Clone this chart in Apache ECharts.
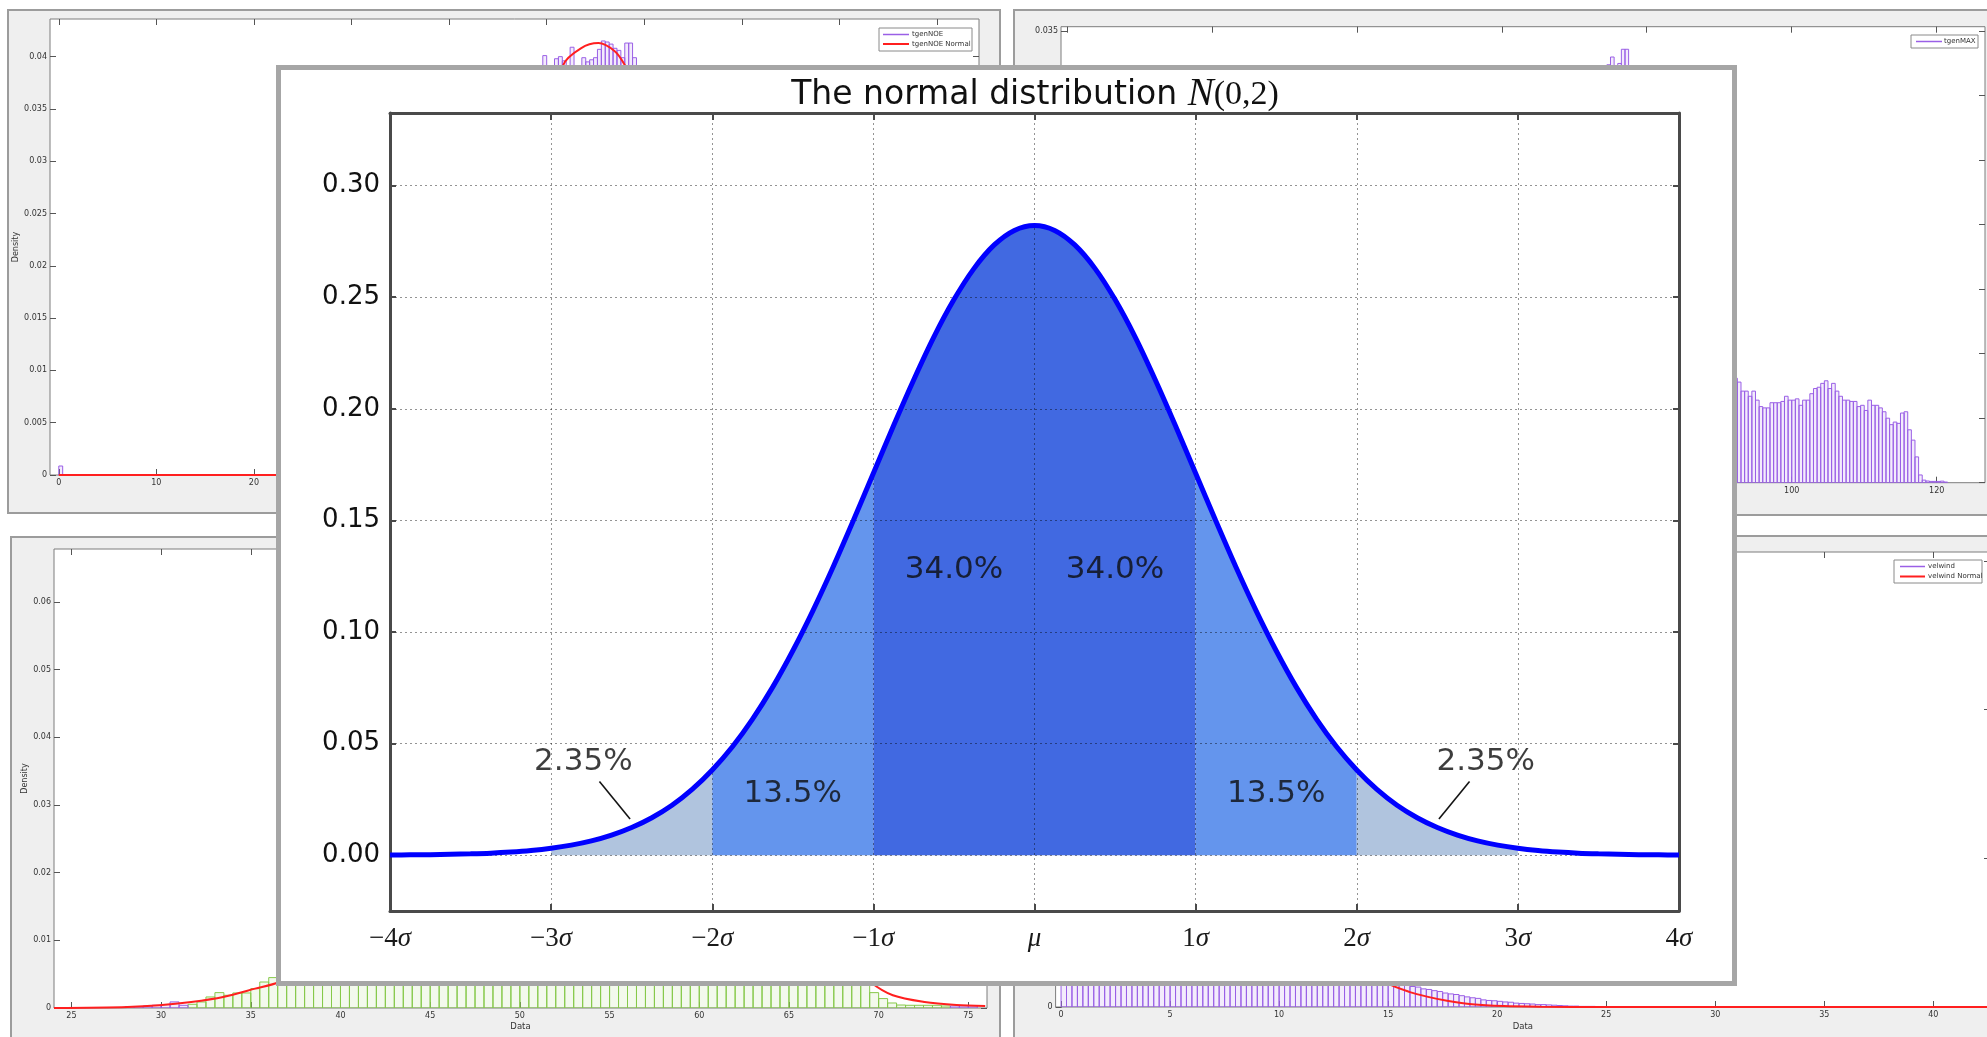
<!DOCTYPE html>
<html><head><meta charset="utf-8">
<script src="https://cdn.jsdelivr.net/npm/echarts@6/dist/echarts.min.js"></script>
<style>html,body{margin:0;padding:0;background:#fff;}#c{width:1987px;height:1037px;}</style>
</head><body><div id="c"></div>
<script>
// ================= main chart: N(0,2) =================
const sigmaX = [-4,-3.875,-3.75,-3.625,-3.5,-3.375,-3.25,-3.125,-3,-2.875,-2.75,-2.625,-2.5,-2.375,-2.25,-2.125,-2,-1.875,-1.75,-1.625,-1.5,-1.375,-1.25,-1.125,-1,-0.875,-0.75,-0.625,-0.5,-0.375,-0.25,-0.125,0,0.125,0.25,0.375,0.5,0.625,0.75,0.875,1,1.125,1.25,1.375,1.5,1.625,1.75,1.875,2,2.125,2.25,2.375,2.5,2.625,2.75,2.875,3,3.125,3.25,3.375,3.5,3.625,3.75,3.875,4];
const density = [0.0001,0.00015,0.0002,0.0004,0.0006,0.0009,0.0014,0.0021,0.0031,0.0045,0.0064,0.0090,0.0124,0.0168,0.0224,0.0295,0.0382,0.0486,0.0610,0.0753,0.0916,0.1096,0.1291,0.1498,0.1711,0.1924,0.2129,0.2321,0.2489,0.2629,0.2734,0.2799,0.2821,0.2799,0.2734,0.2629,0.2489,0.2321,0.2129,0.1924,0.1711,0.1498,0.1291,0.1096,0.0916,0.0753,0.0610,0.0486,0.0382,0.0295,0.0224,0.0168,0.0124,0.0090,0.0064,0.0045,0.0031,0.0021,0.0014,0.0009,0.0006,0.0004,0.0002,0.00015,0.0001];
const sigmaTickLabels = ['−4σ','−3σ','−2σ','−1σ','μ','1σ','2σ','3σ','4σ'];
const densityTicks = [0, 0.05, 0.10, 0.15, 0.20, 0.25, 0.30];
const bandFrom = [-3, -2, -1, 1, 2];
const bandTo = [-2, -1, 1, 2, 3];
const shareLabels = ['2.35%','13.5%','34.0%','34.0%','13.5%','2.35%'];
const shareLabelX = [-2.8, -1.5, -0.5, 0.5, 1.5, 2.8];
const shareLabelY = [0.0417, 0.0275, 0.128, 0.128, 0.0275, 0.0417];
const pointerFrom = [[-2.70, 0.033], [2.70, 0.033]];
const pointerTo = [[-2.51, 0.0162], [2.51, 0.0162]];

// ================= background figure 1: tgenNOE =================
const noeTicksX = [0,10,20,30,40,50,60,70,80,90];
const noeTicksY = [0,0.005,0.01,0.015,0.02,0.025,0.03,0.035,0.04];
const noeBinWidth = 0.4;
const noeBinCenters = [0.2, 46.2,46.6,47.0,47.4,47.8,48.2,48.6,49.0,49.4, 49.8,50.2,50.6,51.0,51.4,51.8,52.2,52.6,53.0,53.4,53.8,54.2,54.6,55.0,55.4,55.8,56.2,56.6,57.0,57.4,57.8,58.2,58.6,59.0, 59.4,59.8,60.2,60.6,61.0];
const noeDensity = [0.00086, 0.030,0.032,0.034,0.035,0.036,0.037,0.036,0.038,0.037, 0.0401,0.0385,0.0390,0.0398,0.0400,0.0396,0.0380,0.0409,0.0385,0.0380,0.0399,0.0395,0.0397,0.0399,0.0407,0.0415,0.0414,0.0412,0.0408,0.0406,0.0399,0.0413,0.0413,0.0399, 0.0375,0.0360,0.0350,0.0330,0.0310];
const noeNormalX = [0,10,20,25,30,35,40,45,48,50,51.7,53.5,55.3,57,58,60,62,65,70,75,80,85,90,94];
const noeNormalY = [0,0,0,0.00005,0.0002,0.0012,0.0045,0.0115,0.0225,0.0305,0.0392,0.0408,0.0413,0.0405,0.0392,0.0355,0.031,0.0235,0.012,0.0048,0.0015,0.0004,0.0001,0];

// ================= background figure 2: tgenMAX =================
const maxTicksX = [0,20,40,60,80,100,120];
const maxTicksY = [0,0.005,0.01,0.015,0.02,0.025,0.03,0.035];
const maxBinStart = 66.0;
const maxBinWidth = 0.5;
const maxDensity = [
 0.006,0.007,0.009,0.010,0.012,0.013,0.015,0.016,0.018,0.019,
 0.021,0.022,0.024,0.025,0.027,0.028,0.030,0.0324,0.0330,0.0315,
 0.0325,0.0336,0.0336,0.0318,0.0305,0.029,0.027,0.025,0.023,0.021,
 0.019,0.018,0.016,0.015,0.014,0.013,0.012,0.011,0.011,0.010,
 0.010,0.0095,0.0092,0.009,0.0088,0.0087,0.0086,0.0085,0.0084,0.0083,
 0.0082,0.0082,
 0.0081,0.0078,0.0071,0.0071,0.0067,0.0071,0.0064,0.0059,0.0058,0.0058,
 0.0062,0.0062,0.0062,0.0063,0.0067,0.0064,0.0064,0.0065,0.0060,0.0064,
 0.0064,0.0069,0.0073,0.0074,0.0077,0.0079,0.0073,0.0077,0.0071,0.0067,
 0.0064,0.0064,0.0063,0.0063,0.0059,0.0060,0.0056,0.0064,0.0060,0.0060,
 0.0058,0.0055,0.0050,0.0045,0.0047,0.0046,0.0054,0.0055,0.0041,0.0033,
 0.0020,0.0006,0.0002,0.00013,0.0001,0.0001,0.0001,0.00012,0.00005];

// ================= background figure 3: green histogram =================
const grnTicksX = [25,30,35,40,45,50,55,60,65,70,75];
const grnTicksY = [0,0.01,0.02,0.03,0.04,0.05,0.06];
const grnBinStart = 31.5;
const grnBinWidth = 0.5;
const grnDensity = [
 0.00055,0.00089,0.00163,0.00227,0.00188,0.00222,0.00222,0.00286,0.00384,0.00449,
 0.012,0.022,0.028,
 0.031,0.030,0.032,0.029,0.031,0.033,0.030,0.031,0.029,0.032,
 0.030,0.031,0.033,0.030,0.029,0.031,0.032,0.030,0.031,0.029,
 0.030,0.032,0.031,0.030,0.033,0.029,0.031,0.030,0.032,0.031,
 0.030,0.029,0.031,0.032,0.030,0.031,0.033,0.030,0.029,0.031,
 0.030,0.032,0.031,0.029,0.030,0.031,0.032,0.030,0.031,0.029,
 0.030,0.032,0.031,0.030,0.029,0.031,0.030,0.032,0.030,0.029,
 0.027,0.022,0.012,
 0.00227,0.00139,0.00074,0.00044,0.0004,0.0004,0.0004,0.0004,0.0003];
const grnPurpleCenters = [28.25,28.75,29.25,29.75,30.25,30.75,31.25,74.25,74.75,75.25];
const grnPurpleDensity = [0.0002,0.0002,0.0003,0.0004,0.0005,0.0009,0.0004,0.0003,0.0003,0.0003];
const grnNormalX = [24.03,28.13,29.9,31.68,33.46,35.24,36.56,40,45,50,53,56,60,65,69.54,70.79,72.56,74.34,75.94];
const grnNormalY = [0,0.00015,0.0004,0.00089,0.00163,0.00286,0.00384,0.009,0.022,0.034,0.037,0.034,0.026,0.014,0.00384,0.00188,0.00089,0.00044,0.0003];

// ================= background figure 4: velwind =================
const velTicksX = [0,5,10,15,20,25,30,35,40];
const velTicksY = [0,0.05,0.1,0.15];
const velBinStart = 0;
const velBinWidth = 0.25;
const velDensity = [
 0.010,0.018,0.024,0.030,0.036,0.041,0.047,0.052,0.058,0.063,
 0.068,0.073,0.078,0.082,0.086,0.090,0.094,0.097,0.100,0.103,
 0.105,0.107,0.108,0.109,0.110,0.110,0.109,0.108,0.106,0.104,
 0.101,0.098,0.094,0.090,0.086,0.081,0.076,0.071,0.066,0.061,
 0.056,0.051,0.047,0.042,0.038,0.034,0.030,0.027,0.024,0.021,
 0.019,0.017,0.015,0.014,0.013,0.012,0.0118,0.0114,0.0110,0.0108,
 0.0105,0.0098,0.0090,0.0084,0.0069,0.0067,0.0061,0.0059,0.0055,0.0052,
 0.0047,0.0044,0.0042,0.0038,0.0034,0.0031,0.0029,0.0024,0.0022,0.0021,
 0.0019,0.0017,0.0016,0.0013,0.0012,0.0011,0.0010,0.0008,0.0008,0.0007,
 0.0006,0.0005,0.0004,0.0003,0.0003,0.0002,0.0002,0.0002,0.0001,0.0001];
const velNormalX = [0,1,2,3,4,5,6,7,8,9,10,11,12,13,14,14.95,15.96,16.83,17.7,18.85,20.3,22,25,30,35,42.6];
const velNormalY = [0.012,0.024,0.040,0.058,0.075,0.088,0.095,0.096,0.090,0.079,0.064,0.048,0.033,0.021,0.013,0.0080,0.0051,0.0034,0.0021,0.0009,0.0003,0.0001,0,0,0,0];

// ================= helpers =================
const PURPLE = '#9a5fe6', PURPLE_FILL = 'rgba(154,95,230,0.12)';
const GREEN = '#86c94a', GREEN_FILL = 'rgba(134,201,74,0.10)';
const RED = '#ff1f1f';
const SMALL_FONT = 'DejaVu Sans';

function histItem(width, fill, stroke) {
  return function (params, api) {
    const x = api.value(0), h = api.value(1);
    const a = api.coord([x - width / 2, h]);
    const b = api.coord([x + width / 2, 0]);
    return { type: 'rect',
      shape: { x: a[0], y: a[1], width: b[0] - a[0], height: b[1] - a[1] },
      style: { fill: fill, stroke: stroke, lineWidth: 1 } };
  };
}
function binned(start, width, vals) { return vals.map((v, i) => [start + (i + 0.5) * width, v]); }
function paired(xs, ys) { return xs.map((x, i) => [x, ys[i]]); }

const bgTick = { inside: true, length: 6, lineStyle: { color: '#555', width: 1 } };
const xAxes = [], yAxes = [];
function bgAxes(g, xr, yr, xt, yt, xName, xGap, yName, yGap) {
  const lab = { fontSize: 8, color: '#333', fontFamily: SMALL_FONT };
  xAxes.push({ type: 'value', gridIndex: g, min: xr[0], max: xr[1], position: 'bottom', zlevel: 0, z: 2,
    axisLine: { show: false, onZero: false }, splitLine: { show: false },
    axisTick: Object.assign({}, bgTick, { customValues: xt }),
    axisLabel: Object.assign({}, lab, { customValues: xt, margin: 4, formatter: v => String(v) }),
    name: xName, nameLocation: 'middle', nameGap: xGap, nameTextStyle: { fontSize: 8.5, color: '#333', fontFamily: SMALL_FONT } });
  xAxes.push({ type: 'value', gridIndex: g, min: xr[0], max: xr[1], position: 'top', zlevel: 0, z: 2,
    axisLine: { show: false, onZero: false }, splitLine: { show: false }, axisLabel: { show: false },
    axisTick: Object.assign({}, bgTick, { customValues: xt }) });
  yAxes.push({ type: 'value', gridIndex: g, min: yr[0], max: yr[1], position: 'left', zlevel: 0, z: 2,
    axisLine: { show: false, onZero: false }, splitLine: { show: false },
    axisTick: Object.assign({}, bgTick, { customValues: yt }),
    axisLabel: Object.assign({}, lab, { customValues: yt, margin: 3, formatter: v => String(v) }),
    name: yName, nameLocation: 'middle', nameGap: yGap, nameTextStyle: { fontSize: 8, color: '#333', fontFamily: SMALL_FONT } });
  yAxes.push({ type: 'value', gridIndex: g, min: yr[0], max: yr[1], position: 'right', zlevel: 0, z: 2,
    axisLine: { show: false, onZero: false }, splitLine: { show: false }, axisLabel: { show: false },
    axisTick: Object.assign({}, bgTick, { customValues: yt }) });
}
bgAxes(0, [-0.9, 94.3], [0, 0.0436], noeTicksX, noeTicksY, '', 14, 'Density', 29);
bgAxes(1, [-0.8, 126.66], [0, 0.03535], maxTicksX, maxTicksY, 'Data', 14, '', 20);
bgAxes(2, [24.03, 76.04], [0, 0.0678], grnTicksX, grnTicksY, 'Data', 14, 'Density', 24);
bgAxes(3, [-0.25, 42.6], [0, 0.153], velTicksX, velTicksY, 'Data', 15, '', 20);

// main axes (index 8,9)
const frame = { show: true, onZero: false, lineStyle: { color: '#4a4a4a', width: 3 } };
const mainTick = { inside: true, length: 7, lineStyle: { color: '#4a4a4a', width: 2 } };
const serif = 'Liberation Serif';
xAxes.push({ type: 'value', gridIndex: 4, min: -4, max: 4, interval: 1, position: 'bottom', zlevel: 1, z: 3,
  axisLine: frame, axisTick: mainTick,
  splitLine: { show: true, lineStyle: { color: 'rgba(0,0,0,0.42)', type: [2, 3], width: 1 } },
  axisLabel: { margin: 14, formatter: function (v) {
      const s = sigmaTickLabels[Math.round(v) + 4];
      if (s.endsWith('σ')) return '{n|' + s.slice(0, -1) + '}{i|σ}';
      return '{i|' + s + '}';
    },
    rich: { n: { fontFamily: serif, fontSize: 27, color: '#1a1a1a' },
            i: { fontFamily: serif, fontStyle: 'italic', fontSize: 27, color: '#1a1a1a' } } } });
xAxes.push({ type: 'value', gridIndex: 4, min: -4, max: 4, interval: 1, position: 'top', zlevel: 1, z: 3,
  axisLine: frame, axisTick: mainTick, splitLine: { show: false }, axisLabel: { show: false } });
yAxes.push({ type: 'value', gridIndex: 4, min: -0.025, max: 0.3325, position: 'left', zlevel: 1, z: 3,
  axisLine: frame, axisTick: Object.assign({}, mainTick, { customValues: densityTicks, length: 6 }),
  splitLine: { show: false },
  axisLabel: { customValues: densityTicks, formatter: v => v.toFixed(2), margin: 10,
    fontFamily: 'DejaVu Sans', fontSize: 26, color: '#111' } });
yAxes.push({ type: 'value', gridIndex: 4, min: -0.025, max: 0.3325, position: 'right', zlevel: 1, z: 3,
  axisLine: frame, axisTick: Object.assign({}, mainTick, { customValues: densityTicks, length: 6 }),
  splitLine: { show: false }, axisLabel: { show: false } });

const bgGrid = { show: true, backgroundColor: '#fff', borderColor: '#7d7d7d', borderWidth: 1, zlevel: 0, z: 1,
  containLabel: false, outerBoundsMode: 'none' };
const grids = [
  Object.assign({}, bgGrid, { left: 50, top: 19, width: 929, height: 456 }),
  Object.assign({}, bgGrid, { left: 1061, top: 26.7, width: 924, height: 456 }),
  Object.assign({}, bgGrid, { left: 54, top: 549, width: 933, height: 459 }),
  Object.assign({}, bgGrid, { left: 1055.6, top: 552, width: 934.4, height: 455 }),
  { left: 390, top: 113, width: 1289, height: 798, show: false, zlevel: 1, z: 1, containLabel: false, outerBoundsMode: 'none' }
];

// ================= series =================
const series = [];
series.push({ type: 'custom', xAxisIndex: 0, yAxisIndex: 0, zlevel: 0, z: 3, clip: true,
  renderItem: histItem(noeBinWidth, PURPLE_FILL, PURPLE), data: paired(noeBinCenters, noeDensity) });
series.push({ type: 'line', xAxisIndex: 0, yAxisIndex: 0, zlevel: 0, z: 4, smooth: 0.3,
  symbol: 'none', lineStyle: { color: RED, width: 2 }, data: paired(noeNormalX, noeNormalY) });
series.push({ type: 'custom', xAxisIndex: 2, yAxisIndex: 2, zlevel: 0, z: 3, clip: true,
  renderItem: histItem(maxBinWidth, PURPLE_FILL, PURPLE), data: binned(maxBinStart, maxBinWidth, maxDensity) });
series.push({ type: 'custom', xAxisIndex: 4, yAxisIndex: 4, zlevel: 0, z: 3, clip: true,
  renderItem: histItem(grnBinWidth, GREEN_FILL, GREEN), data: binned(grnBinStart, grnBinWidth, grnDensity) });
series.push({ type: 'custom', xAxisIndex: 4, yAxisIndex: 4, zlevel: 0, z: 3, clip: true,
  renderItem: histItem(0.5, PURPLE_FILL, PURPLE), data: paired(grnPurpleCenters, grnPurpleDensity) });
series.push({ type: 'line', xAxisIndex: 4, yAxisIndex: 4, zlevel: 0, z: 4, smooth: 0.3,
  symbol: 'none', lineStyle: { color: RED, width: 2 }, data: paired(grnNormalX, grnNormalY) });
series.push({ type: 'custom', xAxisIndex: 6, yAxisIndex: 6, zlevel: 0, z: 3, clip: true,
  renderItem: histItem(velBinWidth, PURPLE_FILL, PURPLE), data: binned(velBinStart, velBinWidth, velDensity) });
series.push({ type: 'line', xAxisIndex: 6, yAxisIndex: 6, zlevel: 0, z: 4, smooth: 0.3,
  symbol: 'none', lineStyle: { color: RED, width: 2 }, data: paired(velNormalX, velNormalY) });

// main: shaded bands
const bandColors = ['#b0c4de', '#6495ed', '#4169e1', '#6495ed', '#b0c4de'];
const curve = paired(sigmaX, density);
bandFrom.forEach((a, k) => {
  const b = bandTo[k];
  series.push({ type: 'line', xAxisIndex: 8, yAxisIndex: 8, zlevel: 1, z: 2, smooth: 0.3,
    symbol: 'none', lineStyle: { width: 0, opacity: 0 },
    areaStyle: { color: bandColors[k], opacity: 1, origin: 'auto' },
    data: curve.filter(p => p[0] >= a - 1e-9 && p[0] <= b + 1e-9) });
});
series.push({ type: 'lines', coordinateSystem: 'cartesian2d', xAxisIndex: 8, yAxisIndex: 8, zlevel: 1, z: 3,
  lineStyle: { color: 'rgba(0,0,0,0.42)', type: [2, 3], width: 1, opacity: 1 },
  data: densityTicks.map(v => ({ coords: [[-4, v], [4, v]] })) });
series.push({ type: 'line', xAxisIndex: 8, yAxisIndex: 8, zlevel: 1, z: 5, smooth: 0.3,
  symbol: 'none', lineStyle: { color: '#0000ff', width: 5 }, data: curve });
series.push({ type: 'lines', coordinateSystem: 'cartesian2d', xAxisIndex: 8, yAxisIndex: 8, zlevel: 1, z: 6,
  lineStyle: { color: '#141414', width: 1.6, opacity: 1 },
  data: pointerFrom.map((p, i) => ({ coords: [p, pointerTo[i]] })) });
series.push({ type: 'scatter', xAxisIndex: 8, yAxisIndex: 8, zlevel: 1, z: 7, symbolSize: 1,
  itemStyle: { color: 'rgba(0,0,0,0)' },
  label: { show: true, position: 'inside', formatter: p => p.data[2],
    fontFamily: 'DejaVu Sans', fontSize: 31, color: '#0d0d0d' },
  data: shareLabels.map((t, i) => [shareLabelX[i], shareLabelY[i], t]) });

// ================= graphic =================
const figRect = (x, y, w, h) => ({ type: 'rect', zlevel: 0, z: 0, shape: { x: x, y: y, width: w, height: h },
  style: { fill: '#efefef', stroke: '#9c9c9c', lineWidth: 2 } });
const legBox = (x, y, w, h) => ({ type: 'rect', zlevel: 0, z: 10, shape: { x: x, y: y, width: w, height: h },
  style: { fill: '#fff', stroke: '#8a8a8a', lineWidth: 1 } });
const legLine = (x1, x2, y, c) => ({ type: 'line', zlevel: 0, z: 11, shape: { x1: x1, y1: y, x2: x2, y2: y },
  style: { stroke: c, lineWidth: c === RED ? 2 : 1.5 } });
const legText = (x, y, t) => ({ type: 'text', zlevel: 0, z: 11, x: x, y: y,
  style: { text: t, fontSize: 7, fontFamily: SMALL_FONT, fill: '#333', verticalAlign: 'middle' } });

const elements = [
  figRect(8, 10, 992, 503), figRect(1014, 10, 1000, 505), figRect(11, 537, 989, 520), figRect(1014, 536, 1000, 520),
  legBox(879, 28, 93, 23), legLine(883, 909, 34.5, PURPLE), legText(912, 34.5, 'tgenNOE'),
  legLine(883, 909, 44, RED), legText(912, 44, 'tgenNOE Normal'),
  legBox(1911, 35, 67, 13), legLine(1916, 1942, 41.5, PURPLE), legText(1944, 41.5, 'tgenMAX'),
  legBox(1894, 560, 88, 23), legLine(1900, 1925, 566.5, PURPLE), legText(1928, 566.5, 'velwind'),
  legLine(1900, 1925, 576.5, RED), legText(1928, 576.5, 'velwind Normal'),
  { type: 'rect', zlevel: 1, z: 0, shape: { x: 278.5, y: 67.5, width: 1456, height: 916 },
    style: { fill: '#fff', stroke: '#a6a6a6', lineWidth: 5 } },
  { type: 'text', zlevel: 1, z: 10, x: 1035, y: 95,
    style: { text: '{a|The normal distribution }{b|N}{c|(0,2)}', align: 'center', verticalAlign: 'middle',
      rich: { a: { fontFamily: 'DejaVu Sans', fontSize: 33, fill: '#111' },
              b: { fontFamily: serif, fontStyle: 'italic', fontSize: 39, fill: '#111' },
              c: { fontFamily: serif, fontSize: 34, fill: '#111' } } } }
];

const chart = echarts.init(document.getElementById('c'), null, { renderer: 'canvas', width: 1987, height: 1037 });
chart.setOption({
  animation: false,
  backgroundColor: '#ffffff',
  grid: grids,
  xAxis: xAxes,
  yAxis: yAxes,
  series: series,
  graphic: { elements: elements }
});
</script></body></html>
